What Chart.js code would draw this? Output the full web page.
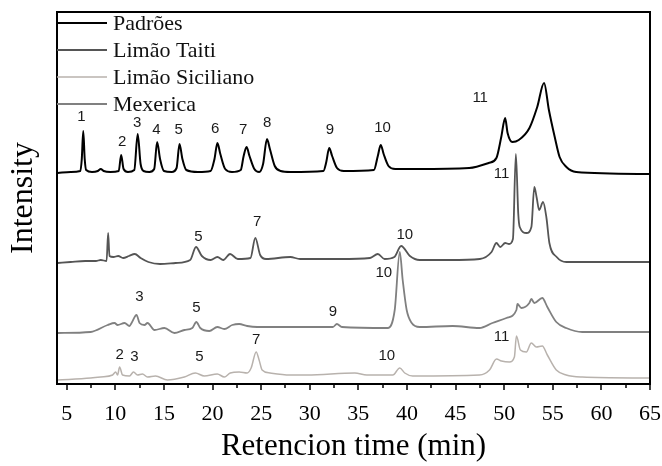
<!DOCTYPE html>
<html>
<head>
<meta charset="utf-8">
<script src="https://cdn.jsdelivr.net/npm/chart.js@4.4.1/dist/chart.umd.min.js"></script>
<style>
  body { margin: 0; background: #fff; }
</style>
</head>
<body>
<canvas id="chromChart" width="662" height="466"></canvas>
<script>
// retention time (min) and stacked intensity (a.u.)
var padroesTime = [4.08, 5.4, 6.4, 6.55, 6.7, 6.85, 7.0, 7.6, 8.2, 8.5, 8.8, 9.5, 10.35, 10.6, 10.85, 11.3, 11.95, 12.3, 12.6, 12.9,
    13.5, 14.0, 14.3, 14.6, 15.0, 15.8, 16.3, 16.6, 16.9, 17.3, 18.5, 19.8, 20.2, 20.5, 20.8, 21.3, 22.0, 22.9, 23.2, 23.5,
    23.8, 24.3, 24.8, 25.2, 25.6, 25.9, 26.4, 27.0, 28.0, 31.4, 31.7, 32.0, 32.3, 32.8, 33.5, 36.6, 37.0, 37.3, 37.6, 38.1,
    38.8, 41.0, 46.4, 48.4, 49.2, 49.7, 50.1, 50.35, 50.85, 51.5, 52.6, 53.4, 54.1, 54.6, 55.2, 55.7, 56.4, 57.4, 64.9];
var padroesIntensity = [211, 212, 213, 225, 253, 225, 214, 212, 213, 215, 213, 212, 213, 229, 215, 212, 214, 250, 220, 213,
    212, 215, 242, 225, 213, 212, 216, 240, 225, 214, 212, 213, 225, 241, 230, 215, 212, 214, 228, 237,
    228, 215, 212, 220, 245, 235, 218, 213, 212, 213, 222, 236, 228, 216, 213, 214, 228, 239, 230, 218,
    215, 215, 216, 221, 226, 247, 266, 251, 242, 244, 256, 277, 301, 274, 247, 227, 217, 212, 210];

var taitiTime = [4.08, 5.4, 6.9, 8.0, 8.5, 9.1, 9.26, 9.4, 9.8, 10.3, 10.8, 11.4, 12.0, 12.6, 13.4, 14.6, 16.2, 17.7, 18.3, 18.9,
    19.8, 20.5, 21.1, 21.8, 22.6, 23.9, 24.4, 24.9, 25.5, 28.0, 29.0, 33.1, 36.2, 37.0, 37.7, 38.7, 39.4, 40.3, 41.3, 44.4,
    47.5, 48.7, 49.2, 49.6, 50.1, 50.5, 50.9, 51.2, 51.45, 51.6, 52.3, 52.8, 53.1, 53.35, 53.6, 54.0, 54.35, 54.65, 55.4, 56.4,
    57.7, 64.9];
var taitiIntensity = [121, 122, 123, 123, 124, 123, 151, 128, 127, 128, 126, 128, 130, 126, 122, 120, 121, 124, 137, 128,
    124, 127, 124, 130, 125, 126, 146, 129, 125, 127, 125, 125, 126, 130, 125, 127, 138, 128, 124, 124,
    125, 132, 141, 137, 141, 140, 145, 230, 170, 157, 151, 157, 197, 186, 174, 182, 166, 141, 127, 122,
    122, 122];

var sicilianoTime = [4.08, 7.46, 8.49, 9.72, 10.03, 10.23, 10.44, 10.74, 11.46, 11.87, 12.28, 12.79, 13.31, 14.13, 15.36, 17.1,
    18.23, 19.15, 20.49, 21.21, 21.82, 22.74, 23.56, 23.97, 24.49, 24.79, 25.1, 25.92, 27.97, 29.72, 34.64, 35.87,
    38.54, 39.26, 39.77, 40.59, 47.46, 48.49, 49.21, 49.72, 50.54, 51.05, 51.26, 51.67, 52.28, 52.79, 53.31, 53.92,
    54.44, 55.36, 56.38, 58.03, 64.9];
var sicilianoIntensity = [4, 6, 7, 9, 12, 9, 17, 9, 8, 12, 9, 10, 7, 8, 4, 7,
    11, 8, 10, 7, 11, 12, 11, 16, 32, 24, 14, 11, 9, 9, 11, 9,
    9, 16, 11, 8, 9, 14, 25, 23, 22, 27, 48, 34, 32, 41, 37, 38,
    29, 14, 9, 7, 6];

var mexericaTime = [4.08, 7.46, 9.21, 9.92, 10.23, 10.95, 11.46, 11.67, 12.18, 12.49, 13.0, 13.31, 14.03, 15.05, 16.08, 17.1,
    17.92, 18.33, 18.74, 19.67, 20.49, 21.21, 22.03, 22.74, 23.56, 24.59, 26.33, 29.72, 32.38, 32.79, 33.31, 38.03,
    38.74, 39.26, 39.56, 39.97, 40.49, 41.31, 44.69, 47.46, 48.79, 50.23, 51.26, 51.36, 51.77, 52.59, 52.79, 53.1,
    53.92, 54.44, 55.36, 56.38, 58.03, 64.9];
var mexericaIntensity = [51, 52, 59, 61, 59, 61, 58, 61, 69, 61, 59, 61, 54, 56, 51, 54,
    56, 62, 56, 53, 57, 55, 59, 60, 58, 57, 57, 57, 57, 60, 57, 56,
    74, 132, 104, 74, 61, 57, 58, 56, 61, 66, 74, 80, 76, 81, 85, 81,
    86, 77, 62, 56, 52, 52];

// peak numbers: [text, time, level]
var padroesPeaks = [['1', 6.51, 267], ['2', 10.71, 242], ['3', 12.25, 261], ['4', 14.23, 254], ['5', 16.52, 254],
    ['6', 20.28, 255], ['7', 23.15, 254], ['8', 25.62, 261], ['9', 32.08, 254], ['10', 37.48, 256], ['11', 47.53, 286]];
var taitiPeaks = [['5', 18.54, 147], ['7', 24.59, 162], ['10', 39.77, 149], ['11', 49.72, 210]];
var mexericaPeaks = [['3', 12.49, 87], ['5', 18.33, 76], ['9', 32.38, 72], ['10', 37.62, 111]];
var sicilianoPeaks = [['2', 10.44, 29], ['3', 11.97, 27], ['5', 18.64, 27], ['7', 24.49, 44], ['10', 37.92, 28], ['11', 49.72, 47]];

var xTickLabels = [5, 10, 15, 20, 25, 30, 35, 40, 45, 50, 55, 60, 65];

var serif = '"Liberation Serif", "Times New Roman", serif';

function toPoints(times, values) {
    var pts = [];
    for (var i = 0; i < times.length; i++) {
        pts.push({ x: times[i], y: values[i] });
    }
    return pts;
}

// box, minor/major ticks, legend and peak numbers
var decorPlugin = {
    id: 'decor',
    afterDraw: function (chart) {
        var ctx = chart.ctx;
        var area = chart.chartArea;
        var xs = chart.scales.x;
        var ys = chart.scales.y;
        ctx.save();

        ctx.strokeStyle = '#000';
        ctx.lineWidth = 2;
        ctx.strokeRect(area.left, area.top, area.right - area.left, area.bottom - area.top);

        ctx.lineWidth = 1.5;
        for (var i = 0; i < xTickLabels.length; i++) {
            var vals = [xTickLabels[i]];
            if (i < xTickLabels.length - 1) vals.push(xTickLabels[i] + 2.5);
            for (var j = 0; j < vals.length; j++) {
                var px = Math.round(xs.getPixelForValue(vals[j]));
                ctx.beginPath();
                ctx.moveTo(px, area.bottom);
                ctx.lineTo(px, area.bottom + (j === 0 ? 6 : 4));
                ctx.stroke();
            }
        }

        // legend
        ctx.font = '22px ' + serif;
        ctx.textAlign = 'left';
        ctx.textBaseline = 'middle';
        chart.data.datasets.forEach(function (ds, k) {
            var y = area.top + 11 + k * 27;
            ctx.strokeStyle = ds.borderColor;
            ctx.lineWidth = ds.borderWidth;
            ctx.beginPath();
            ctx.moveTo(area.left, y);
            ctx.lineTo(area.left + 50, y);
            ctx.stroke();
            ctx.fillStyle = '#111';
            ctx.fillText(ds.label, area.left + 56, y + 1);
        });

        // peak numbers
        ctx.font = '15px "Liberation Sans", Arial, sans-serif';
        ctx.textAlign = 'center';
        ctx.fillStyle = '#1a1a1a';
        [padroesPeaks, taitiPeaks, mexericaPeaks, sicilianoPeaks].forEach(function (list) {
            list.forEach(function (p) {
                ctx.fillText(p[0], xs.getPixelForValue(p[1]), ys.getPixelForValue(p[2]));
            });
        });
        ctx.restore();
    }
};

var ctx = document.getElementById('chromChart').getContext('2d');
var chromChart = new Chart(ctx, {
    type: 'line',
    data: {
        datasets: [{
            label: 'Padrões',
            data: toPoints(padroesTime, padroesIntensity),
            borderColor: '#000000',
            borderWidth: 2
        }, {
            label: 'Limão Taiti',
            data: toPoints(taitiTime, taitiIntensity),
            borderColor: '#555555',
            borderWidth: 1.8
        }, {
            label: 'Limão Siciliano',
            data: toPoints(sicilianoTime, sicilianoIntensity),
            borderColor: '#b8b2ad',
            borderWidth: 1.5
        }, {
            label: 'Mexerica',
            data: toPoints(mexericaTime, mexericaIntensity),
            borderColor: '#808080',
            borderWidth: 1.8
        }]
    },
    options: {
        responsive: false,
        animation: false,
        events: [],
        elements: {
            point: { radius: 0 },
            line: { cubicInterpolationMode: 'monotone', fill: false }
        },
        layout: { padding: { top: 12, right: 12, left: 0, bottom: 0 } },
        plugins: {
            legend: { display: false },
            tooltip: { enabled: false }
        },
        scales: {
            x: {
                type: 'linear',
                min: 4,
                max: 65,
                grid: { display: false },
                border: { display: false },
                afterBuildTicks: function (scale) {
                    scale.ticks = xTickLabels.map(function (v) { return { value: v }; });
                },
                afterFit: function (scale) {
                    scale.height = 82;
                    scale.paddingLeft = 0;
                    scale.paddingRight = 0;
                },
                ticks: {
                    autoSkip: false,
                    maxRotation: 0,
                    padding: 9,
                    color: '#000',
                    font: { family: serif, size: 22 }
                },
                title: {
                    display: true,
                    text: 'Retencion time (min)',
                    color: '#000',
                    padding: { top: 0, bottom: 1 },
                    font: { family: serif, size: 31 }
                }
            },
            y: {
                min: 0,
                max: 372,
                grid: { display: false },
                border: { display: false },
                ticks: { display: false },
                afterFit: function (scale) { scale.width = 57; },
                title: {
                    display: true,
                    text: 'Intensity',
                    color: '#000',
                    padding: { top: 4, bottom: 0 },
                    font: { family: serif, size: 32 }
                }
            }
        }
    },
    plugins: [decorPlugin]
});
</script>
</body>
</html>
